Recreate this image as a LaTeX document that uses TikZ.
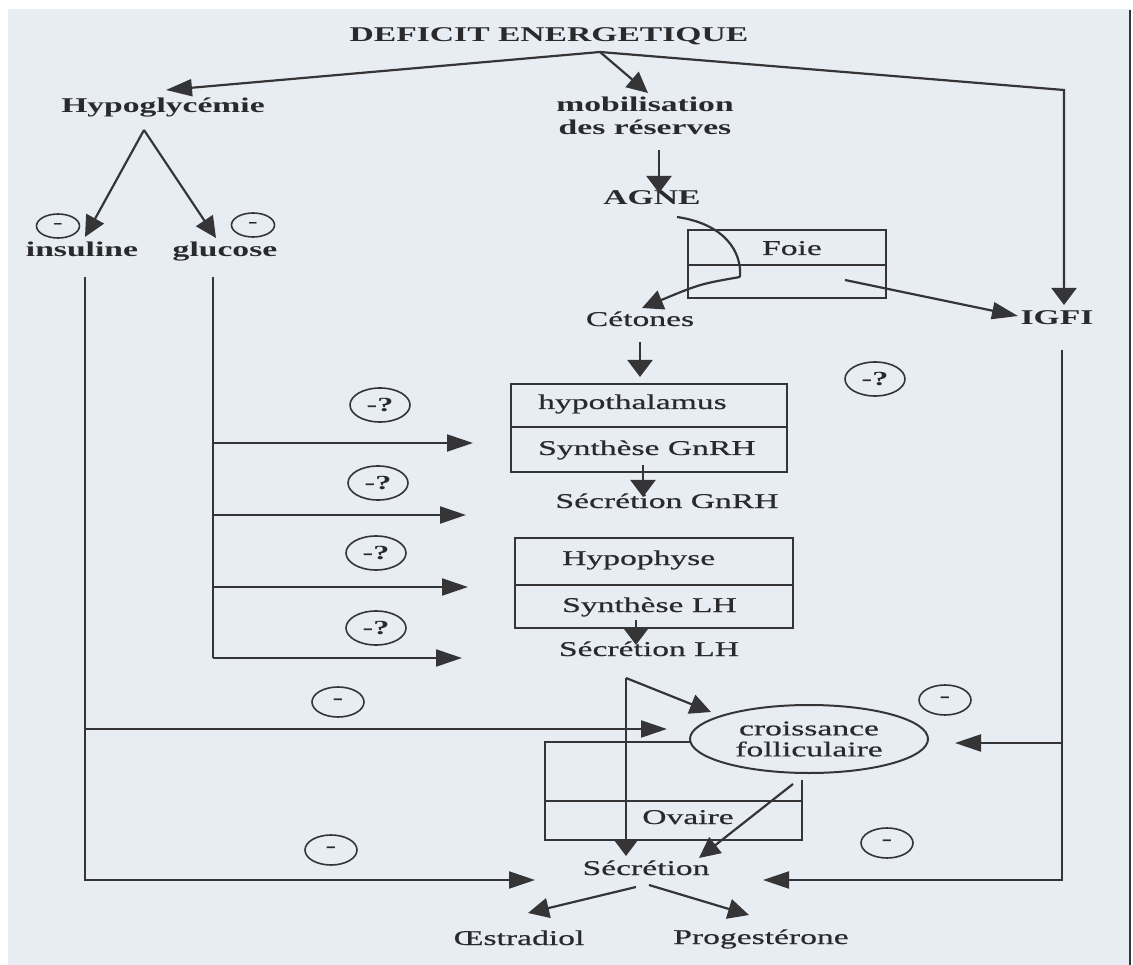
\documentclass[tikz,border=0pt]{standalone}
\usepackage{fontspec}
\setmainfont{Liberation Serif}[FakeStretch=1.6, UprightFeatures={FakeBold=0.6}]
\usetikzlibrary{arrows.meta,shapes.geometric}

\definecolor{paper}{HTML}{E8EDF3}
\definecolor{ink}{HTML}{353538}
\definecolor{txt}{HTML}{2A2A2D}

\begin{document}
\begin{tikzpicture}[x=1pt,y=-1pt,
  every node/.style={text=txt, font=\fontsize{21}{23}\selectfont, inner sep=0pt},
  lbl/.style={text height=14pt, text depth=4pt},
  bf/.style={font=\fontsize{21}{23}\selectfont\bfseries},
  wire/.style={draw=ink, line width=2.2pt},
  ha/.style={wire, -{Triangle[length=26pt,width=17pt]}},
  va/.style={wire, -{Triangle[length=17pt,width=25pt]}},
  da/.style={wire, -{Triangle[length=21pt,width=20pt]}},
  boxline/.style={draw=ink, line width=2pt},
  qmark/.style={ellipse, draw=ink, line width=1.6pt, minimum width=60pt, minimum height=34pt, font=\fontsize{20}{22}\selectfont\bfseries},
  minus/.style={ellipse, draw=ink, line width=1.6pt, minimum width=52pt, minimum height=30pt, font=\fontsize{20}{22}\selectfont\bfseries},
  sminus/.style={ellipse, draw=ink, line width=1.6pt, minimum width=43pt, minimum height=24pt, font=\fontsize{18}{20}\selectfont\bfseries},
]
% page and paper
\useasboundingbox (0,0) rectangle (1133,965);
\fill[white] (0,0) rectangle (1133,965);
\fill[paper] (8,9) rectangle (1130,965);
\draw[ink, line width=1.8pt] (1130,10) -- (1130,965);

% ---------- labels ----------
\node[bf,lbl] (def) at (549,37) {DEFICIT ENERGETIQUE};
\node[bf,lbl] (hypo) at (163,108) {Hypoglycémie};
\node[align=center, font=\fontsize{21}{23}\selectfont\bfseries] (mob) at (645,116) {mobilisation\\des réserves};
\node[bf,lbl] (agne) at (652,200) {AGNE};
\node[bf,lbl] (ins) at (82,252) {insuline};
\node[bf,lbl] (glu) at (225,252) {glucose};
\node[bf,lbl] (igf) at (1057,320) {IGFI};

% liver box
\draw[boxline] (688,230) rectangle (886,298);
\draw[boxline] (688,265) -- (886,265);
\node[lbl] (foie) at (792,250) {Foie};
\node[lbl] (cet) at (640,321) {Cétones};

% hypothalamus box
\draw[boxline] (511,384) rectangle (787,472);
\draw[boxline] (511,427) -- (787,427);
\node[lbl, anchor=west] (hth) at (538,404) {hypothalamus};
\node[lbl, anchor=west] (sgn) at (538,450) {Synthèse GnRH};
\node[lbl] (secg) at (667,503) {Sécrétion GnRH};

% pituitary box
\draw[boxline] (515,538) rectangle (793,628);
\draw[boxline] (515,585) -- (793,585);
\node[lbl, anchor=west] (hph) at (562,560) {Hypophyse};
\node[lbl, anchor=west] (slh) at (562,607) {Synthèse LH};
\node[lbl] (secl) at (649,651) {Sécrétion LH};

% ovary box, partly hidden by the follicle ellipse
\draw[boxline] (690,742) -- (545,742) -- (545,840) -- (802,840) -- (802,780);
\draw[boxline] (545,801) -- (802,801);
\node[ellipse, draw=ink, line width=2pt, fill=paper, minimum width=238pt, minimum height=68pt,
      align=center, font=\fontsize{21}{21}\selectfont] (cf) at (809,739) {croissance\\folliculaire};
\node[lbl] (ov) at (688,819) {Ovaire};
\node[lbl] (sec) at (646,870) {Sécrétion};
\node[lbl] (oes) at (519,940) {Œstradiol};
\node[lbl] (prog) at (761,939) {Progestérone};

% ---------- inhibition marks ----------
\node[sminus] (n1) at (58,226) {-};
\node[sminus] (n2) at (253,225) {-};
\node[qmark] (q1) at (380,405) {-?};
\node[qmark] (q2) at (378,483) {-?};
\node[qmark] (q3) at (376,553) {-?};
\node[qmark] (q4) at (376,628) {-?};
\node[qmark] (q5) at (875,379) {-?};
\node[minus] (m1) at (338,702) {-};
\node[minus] (m2) at (945,700) {-};
\node[minus] (m3) at (887,843) {-};
\node[minus] (m4) at (331,850) {-};

% ---------- connector points ----------
\coordinate (J) at (600,52);
\coordinate (hypoIn) at (166,90);
\coordinate (mobIn) at (648,93);
\coordinate (R1) at (1064,90);
\coordinate (igfIn) at (1064,305);
\coordinate (A0) at (144,130);
\coordinate (insIn) at (85,237);
\coordinate (gluIn) at (216,238);
\coordinate (I0) at (85,277);
\coordinate (I1) at (85,729);
\coordinate (I2) at (85,880);
\coordinate (secInL) at (535,880);
\coordinate (cfInL) at (667,729);
\coordinate (G0) at (213,277);
\coordinate (G1) at (213,443);
\coordinate (G2) at (213,515);
\coordinate (G3) at (213,587);
\coordinate (G4) at (213,658);
\coordinate (hthIn) at (473,443);
\coordinate (secgIn) at (466,515);
\coordinate (hphIn) at (468,587);
\coordinate (seclIn) at (462,658);
\coordinate (M0) at (659,150);
\coordinate (agneIn) at (659,193);
\coordinate (C0) at (677,217);
\coordinate (C1) at (740,277);
\coordinate (cetIn) at (642,308);
\coordinate (F0) at (845,280);
\coordinate (igfInL) at (1018,316);
\coordinate (K0) at (640,342);
\coordinate (hthTop) at (640,377);
\coordinate (S0) at (643,465);
\coordinate (secgTop) at (643,497);
\coordinate (L0) at (636,620);
\coordinate (seclTop) at (636,645);
\coordinate (P0) at (626,678);
\coordinate (secTop) at (626,856);
\coordinate (cfIn) at (711,712);
\coordinate (E0) at (793,784);
\coordinate (secInD) at (699,858);
\coordinate (Q0) at (1062,350);
\coordinate (Q1) at (1062,743);
\coordinate (Q2) at (1062,880);
\coordinate (secInR) at (763,880);
\coordinate (cfInR) at (955,743);
\coordinate (O0) at (636,887);
\coordinate (oesIn) at (528,913);
\coordinate (O1) at (649,885);
\coordinate (progIn) at (749,915);

% ---------- connectors ----------
\draw[ha] (J) -- (hypoIn);
\draw[da] (J) -- (mobIn);
\draw[va] (J) -- (R1) -- (igfIn);
\draw[da] (A0) -- (insIn);
\draw[da] (A0) -- (gluIn);
\draw[ha] (I0) -- (I2) -- (secInL);
\draw[ha] (I1) -- (cfInL);
\draw[wire] (G0) -- (G4);
\draw[ha] (G1) -- (hthIn);
\draw[ha] (G2) -- (secgIn);
\draw[ha] (G3) -- (hphIn);
\draw[ha] (G4) -- (seclIn);
\draw[va] (M0) -- (agneIn);
\draw[wire] (C0) .. controls (725,224) and (742,252) .. (C1);
\draw[da] (C1) .. controls (700,284) .. (cetIn);
\draw[ha] (F0) -- (igfInL);
\draw[va] (K0) -- (hthTop);
\draw[va] (S0) -- (secgTop);
\draw[va] (L0) -- (seclTop);
\draw[va] (P0) -- (secTop);
\draw[da] (P0) -- (cfIn);
\draw[da] (E0) -- (secInD);
\draw[ha] (Q0) -- (Q2) -- (secInR);
\draw[ha] (Q1) -- (cfInR);
\draw[da] (O0) -- (oesIn);
\draw[da] (O1) -- (progIn);
\end{tikzpicture}
\end{document}
